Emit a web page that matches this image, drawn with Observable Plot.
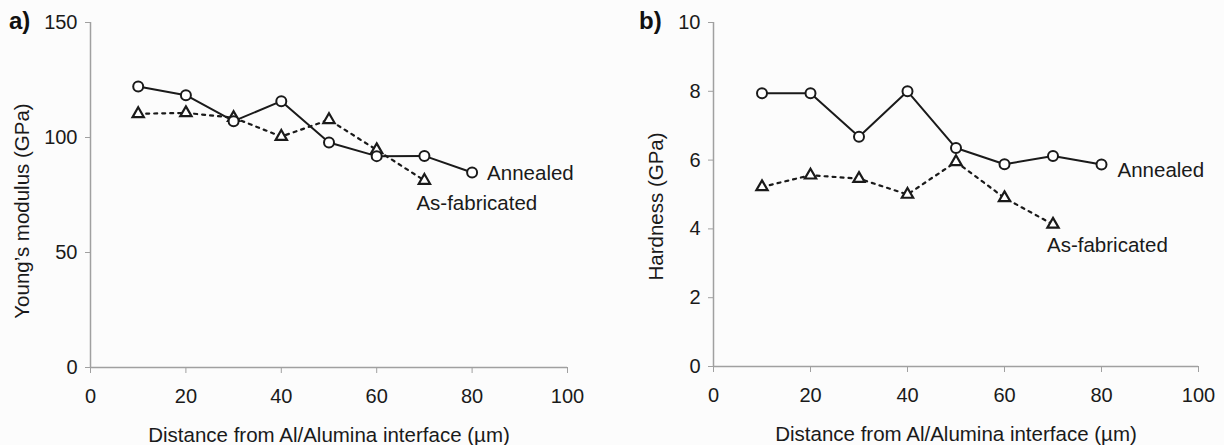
<!DOCTYPE html>
<html><head>
<meta charset="utf-8">
<script src="https://cdn.jsdelivr.net/npm/d3@7"></script>
<script src="https://cdn.jsdelivr.net/npm/@observablehq/plot@0.6"></script>
<style>
body{margin:0;background:#fcfcfc;}
#wrap{display:flex;width:1224px;height:445px;}
.panel{position:relative;width:612px;height:445px;}
.tag{position:absolute;font:bold 24px "Liberation Sans",Arial,sans-serif;color:#111;}
</style></head><body>
<div id="wrap">
  <div class="panel" id="pa"><div class="tag" style="left:9px;top:7px">a)</div></div>
  <div class="panel" id="pb"><div class="tag" style="left:27px;top:7px">b)</div></div>
</div>
<script>
const distanceAnnealed = [10, 20, 30, 40, 50, 60, 70, 80];
const distanceFabricated = [10, 20, 30, 40, 50, 60, 70];
const modulusAnnealed = [122.2, 118.4, 107.1, 115.8, 97.8, 91.9, 92.0, 84.8];
const modulusFabricated = [110.3, 110.7, 108.6, 100.4, 107.7, 94.6, 81.3];
const hardnessAnnealed = [7.94, 7.94, 6.68, 8.0, 6.35, 5.88, 6.12, 5.87];
const hardnessFabricated = [5.22, 5.56, 5.46, 5.0, 5.95, 4.9, 4.13];
const xTicks = [0, 20, 40, 60, 80, 100];
const modulusTicks = [0, 50, 100, 150];
const hardnessTicks = [0, 2, 4, 6, 8, 10];
const seriesNames = ["Annealed", "As-fabricated"];
const xTitle = "Distance from Al/Alumina interface (\u00b5m)";

const FONT = '"Liberation Sans", Arial, sans-serif';
const INK = "#1a1a1a";
const AXIS = "#a0a0a0";

function panel({ann, fab, yTicks, yMax, yTitle, mLeft, mRight, mBottom, yLabelDx, yLabelDy, annLab, fabLab}) {
  const A = distanceAnnealed.map((d, i) => ({x: d, y: ann[i]}));
  const F = distanceFabricated.map((d, i) => ({x: d, y: fab[i]}));
  const lastA = [A[A.length - 1]];
  const lastF = [F[F.length - 1]];
  return Plot.plot({
    width: 612, height: 445,
    marginLeft: mLeft, marginRight: mRight, marginTop: 22, marginBottom: mBottom,
    style: {fontFamily: FONT, fontSize: "20px", background: "transparent", color: INK},
    x: {domain: [0, 100]},
    y: {domain: [0, yMax]},
    marks: [
      Plot.axisX({ticks: xTicks, tickSize: 6, tickPadding: 15, stroke: AXIS, fill: INK, label: null, fontSize: 20}),
      Plot.axisY({ticks: yTicks, tickSize: 5, tickPadding: 8, stroke: AXIS, fill: INK, label: null, fontSize: 20}),
      Plot.ruleX([0], {stroke: AXIS, strokeWidth: 1.5}),
      Plot.ruleY([0], {stroke: AXIS, strokeWidth: 1.5}),
      Plot.text([yTitle], {frameAnchor: "left", text: d => d, rotate: -90, dx: yLabelDx, dy: yLabelDy, fill: INK, fontSize: 20.5, textAnchor: "middle", lineAnchor: "middle"}),
      Plot.text([xTitle], {frameAnchor: "bottom", text: d => d, dy: 68, fill: INK, fontSize: 20.5, textAnchor: "middle", lineAnchor: "middle"}),
      Plot.line(F, {x: "x", y: "y", stroke: INK, strokeWidth: 2.2, strokeDasharray: "3,5"}),
      Plot.line(A, {x: "x", y: "y", stroke: INK, strokeWidth: 2}),
      Plot.dot(F, {x: "x", y: "y", symbol: "triangle", r: 4.2, fill: "white", stroke: INK, strokeWidth: 2.2}),
      Plot.dot(A, {x: "x", y: "y", symbol: "circle", r: 5, fill: "white", stroke: INK, strokeWidth: 2}),
      Plot.text(lastA, {x: "x", y: "y", text: () => seriesNames[0], dx: annLab[0], dy: annLab[1], textAnchor: "start", fill: INK, fontSize: 20.5}),
      Plot.text(lastF, {x: "x", y: "y", text: () => seriesNames[1], dx: fabLab[0], dy: fabLab[1], textAnchor: "start", fill: INK, fontSize: 20.5})
    ]
  });
}

document.getElementById("pa").appendChild(panel({
  ann: modulusAnnealed, fab: modulusFabricated, yTicks: modulusTicks, yMax: 150,
  yTitle: "Young\u2019s modulus (GPa)", mLeft: 90, mRight: 45, mBottom: 78,
  yLabelDx: -68, yLabelDy: 16, annLab: [15, 1], fabLab: [-8, 23]
}));
document.getElementById("pb").appendChild(panel({
  ann: hardnessAnnealed, fab: hardnessFabricated, yTicks: hardnessTicks, yMax: 10,
  yTitle: "Hardness (GPa)", mLeft: 101, mRight: 26, mBottom: 79,
  yLabelDx: -57, yLabelDy: 12, annLab: [16, 6], fabLab: [-6, 21]
}));
</script>
</body></html>
